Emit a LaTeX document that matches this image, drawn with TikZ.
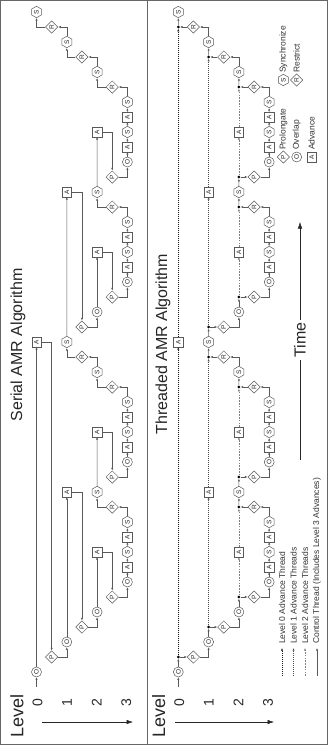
\documentclass[tikz,border=0pt]{standalone}
\usepackage{fontspec}
\setmainfont{Liberation Sans}
\usetikzlibrary{shapes.geometric,arrows.meta}
\begin{document}
\begin{tikzpicture}[x=1pt,y=-1pt,
  every node/.style={rotate=90, text=black!85},
  line/.style={draw=black!65, line width=0.5pt},
  arr/.style={line, -{Latex[length=2.6pt,width=2.2pt]}},
  bigarr/.style={draw=black!85, line width=0.5pt, -{Latex[length=6.5pt,width=4.5pt]}},
  evbase/.style={draw=black!65, line width=0.5pt, fill=white, inner sep=0pt, font=\fontsize{6.5}{7}\selectfont},
  evO/.style={evbase, circle, minimum size=10pt},
  evS/.style={evbase, regular polygon, regular polygon sides=6, minimum size=11.5pt},
  evA/.style={evbase, rectangle, minimum size=9.5pt},
  evP/.style={evbase, diamond, minimum size=12.5pt},
  evR/.style={evP},
  jdot/.style={circle, fill=black, inner sep=0pt, minimum size=3pt},
  thr0/.style={draw=black!90, line width=0.6pt, dash pattern=on 1.2pt off 0.8pt, -{Latex[length=2.6pt,width=2.2pt]}},
  thr1/.style={draw=black!70, line width=0.6pt, dash pattern=on 1.2pt off 0.8pt, -{Latex[length=2.6pt,width=2.2pt]}},
  thr2/.style={draw=black!50, line width=0.5pt, dash pattern=on 1.6pt off 1.2pt, -{Latex[length=2.6pt,width=2.2pt]}},
  titlef/.style={font=\fontsize{16}{18}\selectfont, text=black!85},
  levelf/.style={font=\fontsize{18}{20}\selectfont, text=black!85},
  digitf/.style={font=\fontsize{14}{16}\selectfont, text=black!85},
  legf/.style={font=\fontsize{8.5}{10}\selectfont, text=black!80, inner sep=0pt, anchor=west}
]
\useasboundingbox (0,0) rectangle (328,745);
% frame
\draw[black!60, line width=0.6pt] (0.5,0.5) rectangle (327.5,744.5);
\draw[black!60, line width=0.6pt] (147,0.5) -- (147,744.5);

% titles
\node[titlef] (stitle) at (18,345) {Serial AMR Algorithm};
\node[titlef] (ttitle) at (163,344) {Threaded AMR Algorithm};

% panels
\foreach \p/\xo in {s/0, t/141.8} {
  \foreach \k/\ty/\c in {0/O/0, 1/P/1, 2/O/2, 3/P/3, 4/O/4, 5/P/5, 6/O/6, 7/A/6, 8/S/6, 9/A/6, 10/S/6,
     11/R/5, 12/S/4, 13/P/5, 14/O/6, 15/A/6, 16/S/6, 17/A/6, 18/S/6, 19/R/5, 20/S/4, 21/R/3, 22/S/2,
     23/P/3, 24/O/4, 25/P/5, 26/O/6, 27/A/6, 28/S/6, 29/A/6, 30/S/6, 31/R/5, 32/S/4, 33/P/5, 34/O/6,
     35/A/6, 36/S/6, 37/A/6, 38/S/6, 39/R/5, 40/S/4, 41/R/3, 42/S/2, 43/R/1, 44/S/0} {
    \node[ev\ty] (\p\k) at ({\xo+36.5+15.15*\c},{672-15*\k}) {\ty};
  }
  \foreach \n/\c/\k in {A0/0/22, A1a/2/12, A1b/2/32, A2a/4/8, A2b/4/16, A2c/4/28, A2d/4/36} {
    \node[evA] (\p\n) at ({\xo+36.5+15.15*\c},{672-15*\k}) {A};
  }
  \coordinate (\p in) at ({\xo+36.5},687);
  \draw[arr] (\p in) -- (\p0);
  \foreach \a/\b in {6/7,7/8,8/9,9/10,14/15,15/16,16/17,17/18,26/27,27/28,28/29,29/30,34/35,35/36,36/37,37/38} {
    \draw[arr] (\p\a) -- (\p\b);
  }
  \foreach \a/\b in {10/11, 18/19, 20/21, 30/31, 38/39, 40/41, 42/43} {
    \draw[arr] (\p\a) |- (\p\b);
  }
  \foreach \a/\b in {1/2, 3/4, 5/6, 13/14, 23/24, 25/26, 33/34} {
    \draw[arr] (\p\a) -| (\p\b);
  }
  % level digits and arrow
  \node[levelf] (\p level) at ({\xo+17},716) {Level};
  \foreach \d/\c in {0/0,1/2,2/4,3/6} {
    \node[digitf] (\p dig\d) at ({\xo+37.5+14.8*\c},703) {\d};
  }
}

% serial-only connectors
\foreach \a/\b in {11/12, 19/20, 21/22, 31/32, 39/40, 41/42, 43/44} {
  \draw[arr] (s\a) -| (s\b);
}
\foreach \f/\n/\q in {0/A0/1, 2/A1a/3, 4/A2a/5, 12/A2b/13, 22/A1b/23, 24/A2c/25, 32/A2d/33} {
  \draw[arr] (s\f) -- (s\n);
  \draw[arr] (s\n) -| (s\q);
}

% threaded: junction dots
\foreach \k/\c in {1/0, 3/2, 5/4, 11/4, 13/4, 19/4, 21/2, 23/2, 25/4, 31/4, 33/4, 39/4, 41/2, 43/0} {
  \node[jdot] (td\k) at ({141.8+36.5+15.15*\c},{672-15*\k}) {};
}
\foreach \a/\b in {11/12, 19/20, 21/22, 31/32, 39/40, 41/42, 43/44} {
  \draw[arr] (t\a) -- (td\a);
  \draw[arr] (td\a) -- (t\b);
}
\foreach \a/\b in {0/1, 2/3, 4/5, 12/13, 22/23, 24/25, 32/33} {
  \draw[arr] (t\a) -- (td\b);
  \draw[arr] (td\b) -- (t\b);
}
\foreach \a/\n/\b in {1/A0/43} {
  \draw[thr0] (td\a) -- (t\n);
  \draw[thr0] (t\n) -- (td\b);
}
\foreach \a/\n/\b in {3/A1a/21, 23/A1b/41} {
  \draw[thr1] (td\a) -- (t\n);
  \draw[thr1] (t\n) -- (td\b);
}
\foreach \a/\n/\b in {5/A2a/11, 13/A2b/19, 25/A2c/31, 33/A2d/39} {
  \draw[thr2] (td\a) -- (t\n);
  \draw[thr2] (t\n) -- (td\b);
}

% level arrows
\coordinate (sla) at (42,722);
\coordinate (slb) at (133,722);
\draw[bigarr] (sla) -- (slb);
\coordinate (tla) at (175,722);
\coordinate (tlb) at (274,722);
\draw[bigarr] (tla) -- (tlb);

% time arrow
\coordinate (tms) at (300,460);
\coordinate (tme) at (300,222);
\draw[bigarr] (tms) -- (tme);
\node[titlef, fill=white, inner sep=3pt] (timelbl) at (300,340) {Time};

% legend (symbols)
\node[evS] (lgS) at (283.3,80) {S};
\node[legf] (lgSt) at (283.3,73) {Synchronize};
\node[evR] (lgR) at (296.7,80) {R};
\node[legf] (lgRt) at (296.7,73) {Restrict};
\node[evP] (lgP) at (283.3,157) {P};
\node[legf] (lgPt) at (283.3,150) {Prolongate};
\node[evO] (lgO) at (296.7,157) {O};
\node[legf] (lgOt) at (296.7,150) {Overlap};
\node[evA] (lgA) at (311.7,157) {A};
\node[legf] (lgAt) at (311.7,150) {Advance};

% legend (threads)
\coordinate (lg0a) at (282,676); \coordinate (lg0b) at (282,648);
\coordinate (lg1a) at (293.5,676); \coordinate (lg1b) at (293.5,648);
\coordinate (lg2a) at (305,676); \coordinate (lg2b) at (305,648);
\coordinate (lg3a) at (317,676); \coordinate (lg3b) at (317,648);
\draw[thr0] (lg0a) -- (lg0b);
\draw[thr1] (lg1a) -- (lg1b);
\draw[thr2] (lg2a) -- (lg2b);
\draw[arr] (lg3a) -- (lg3b);
\node[legf] (lg0t) at (282,644) {Level 0 Advance Thread};
\node[legf] (lg1t) at (293.5,644) {Level 1 Advance Threads};
\node[legf] (lg2t) at (305,644) {Level 2 Advance Threads};
\node[legf] (lg3t) at (317,644) {Control Thread (Includes Level 3 Advances)};
\end{tikzpicture}
\end{document}
